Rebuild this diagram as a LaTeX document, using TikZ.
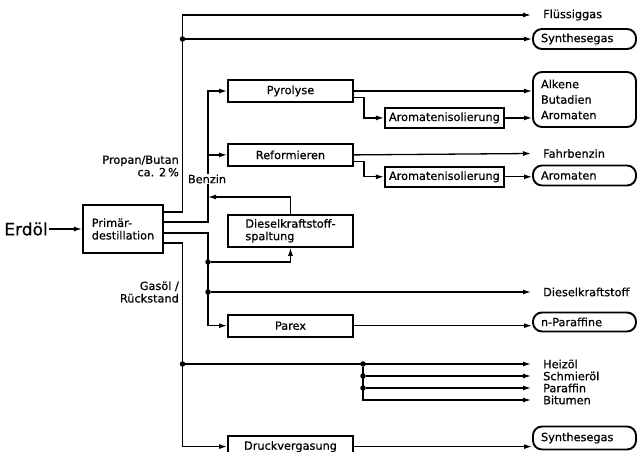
\documentclass[tikz,border=0pt]{standalone}
\usepackage{fontspec}
\setmainfont{DejaVu Sans}[FakeBold=0.6]
\usetikzlibrary{arrows.meta, positioning, calc}

\begin{document}
\begin{tikzpicture}[
    x=1pt, y=-1pt,
    >={Latex[length=8pt,width=5pt]},
    font=\fontsize{11.3}{12.5}\selectfont,
    proc/.style={rectangle, draw=black, line width=1.9pt, minimum width=125pt, minimum height=22pt, inner sep=2pt},
    iso/.style={rectangle, draw=black, line width=1.9pt, minimum width=119pt, minimum height=20pt, inner sep=2pt},
    product/.style={rectangle, rounded corners=9pt, draw=black, line width=1.9pt, text width=87pt, align=left, inner xsep=8pt, inner ysep=2pt, minimum height=20pt},
    outtext/.style={anchor=west, inner xsep=12pt, inner ysep=1pt},
    flowlabel/.style={align=right, inner sep=0pt},
    line/.style={->, line width=1.3pt},
    dot/.style={circle, fill=black, inner sep=0pt, minimum size=5.5pt}
]
\useasboundingbox (0,0) rectangle (637,452);

\node[rectangle, draw=black, line width=2.2pt, minimum width=80pt, minimum height=48pt, align=left] (prim) at (123,229) {Primär-\\destillation};
\node[left=33pt of prim, inner sep=1pt, font=\fontsize{17}{19}\selectfont] (erdoel) {Erdöl};

\node[proc] (pyro) at (290.5,91) {Pyrolyse};
\node[proc, below=40pt of pyro] (reform) {Reformieren};
\node[proc, below=47pt of reform, minimum height=32pt, align=left] (spalt) {Dieselkraftstoff-\\spaltung};
\node[proc, below=66pt of spalt] (parex) {Parex};
\node[proc, below=97pt of parex] (druck) {Druckvergasung};

\node[iso, below right=4pt and 30pt of pyro] (iso1) {Aromatenisolierung};
\node[iso, below right=-1pt and 30pt of reform] (iso2) {Aromatenisolierung};

\node[product] (syn1) at (584.5,39) {Synthesegas};
\node[product, minimum height=55pt, font=\fontsize{11.3}{15.5}\selectfont] (alk) at (584.5,99.5) {Alkene\\Butadien\\Aromaten};
\node[product] (arom) at (584.5,175.5) {Aromaten};
\node[product, minimum height=19pt] (npar) at (584.5,322) {n-Paraffine};
\node[product, minimum height=23pt] (syn2) at (584.5,438) {Synthesegas};

\node[outtext] (fluessig) at (531,15) {Flüssiggas};
\node[outtext] (fahr) at (531,153.5) {Fahrbenzin};
\node[outtext] (diesel) at (531,292) {Dieselkraftstoff};
\node[outtext] (heiz) at (531,364) {Heizöl};
\node[outtext] (schmier) at (531,376) {Schmieröl};
\node[outtext] (paraffin) at (531,388) {Paraffin};
\node[outtext] (bitumen) at (531,400) {Bitumen};

\coordinate (bx) at (208,0);
\coordinate (ret) at (208,197);
\node[dot] (jtop) at (182.5,39) {};
\node[dot] (j1) at (208,262) {};
\node[dot] (j2) at (208,292) {};
\node[dot] (j3) at (182.5,364) {};
\node[dot] (h1) at (363,364) {};
\node[dot] (h2) at (363,376) {};
\node[dot] (h3) at (363,388) {};

\draw[line] (erdoel.east) -- (erdoel.east -| prim.west);

\draw[line] ($(prim.north east)+(0,8)$) -| (fluessig.west -| jtop) -- (fluessig.west);
\draw[line] (jtop) -- (jtop -| syn1.west);

\draw[line] ($(prim.north east)+(0,18)$) -| (pyro.west -| bx) -- (pyro.west);
\draw[line] (reform.west -| bx) -- (reform.west);
\draw[line] (spalt.north) |- (ret);

\draw[line] ($(prim.north east)+(0,29)$) -| (parex.west -| bx) -- (parex.west);
\draw[line] (j1) -| (spalt.south);
\draw[line] (j2) -- (diesel.west);

\draw[line] ($(prim.north east)+(0,39)$) -| (druck.west -| jtop) -- (druck.west);
\draw[line] (j3) -- (heiz.west);
\draw[line] (h2) -- (schmier.west);
\draw[line] (h3) -- (paraffin.west);
\draw[line] (h1) |- (bitumen.west);

\draw[line] (pyro.east) -- (pyro.east -| alk.west);
\coordinate (py2) at ($(pyro.east)+(0,6.5)$);
\draw[line] (py2) -| ($(iso1.west)+(-20,0)$) -- (iso1.west);
\draw[line] (iso1.east) -- (iso1.east -| alk.west);

\draw[line] (reform.east) -- (fahr.west);
\coordinate (rf2) at ($(reform.east)+(0,6.5)$);
\draw[line] (rf2) -| ($(iso2.west)+(-20,0)$) -- (iso2.west);
\draw[line] (iso2.east) -- (iso2.east -| arom.west);

\draw[line] (parex.east) -- (parex.east -| npar.west);
\draw[line] (druck.east) -- (druck.east -| syn2.west);

\node[flowlabel, anchor=east] (propan) at (179,166) {Propan/Butan\\ca. 2\,\%};
\node[flowlabel, anchor=east] (gasoel) at (179,292) {Gasöl /\\Rückstand};
\node[fill=white, inner sep=1pt] (benzin) at (207,179) {Benzin};
\end{tikzpicture}
\end{document}
